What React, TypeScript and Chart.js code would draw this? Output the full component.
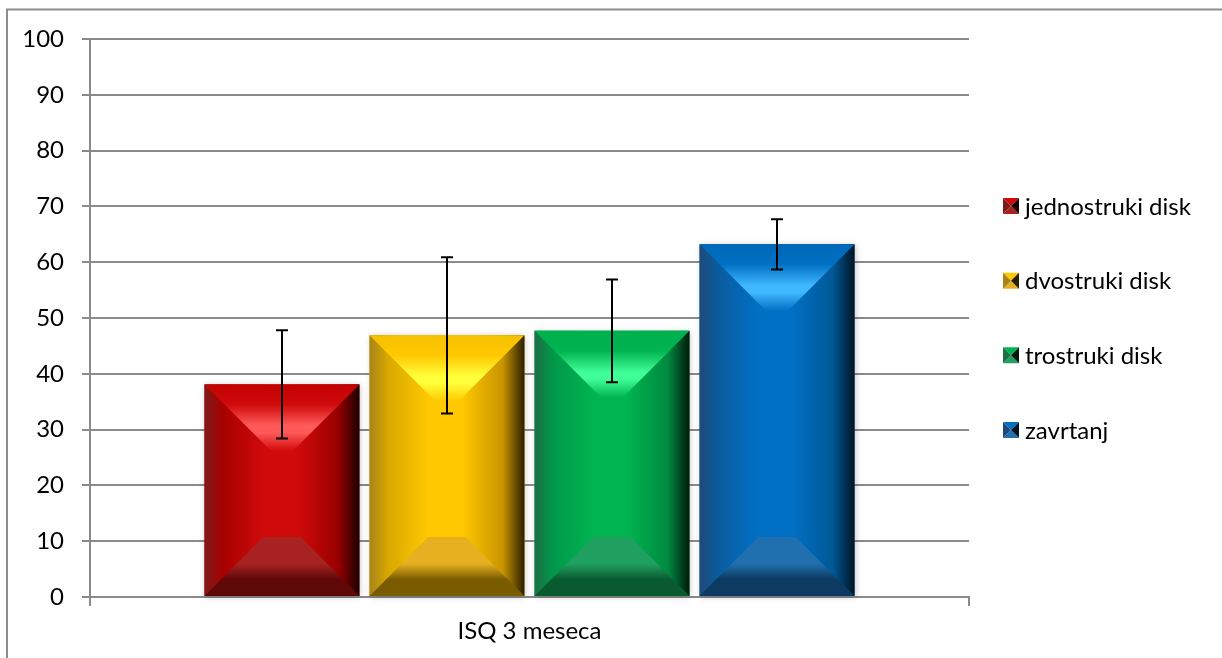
import React, { useEffect, useRef } from 'react';
import { Chart, registerables } from 'chart.js';

Chart.register(...registerables);

// ---- data ----
const categories = ['ISQ 3 meseca'];
const seriesNames = ['jednostruki disk', 'dvostruki disk', 'trostruki disk', 'zavrtanj'];
const means = [38.1, 46.9, 47.7, 63.2];
const errors = [9.7, 14.0, 9.2, 4.5];
const yMin = 0;
const yMax = 100;
const yStep = 10;

// ---- styles ----
type Pal = {
  base: string; edgeL: string; sideL: string; sideR: string; edgeR: string;
  topEdge: string; hi: string; botTop: string; botDark: string;
};
const palettes: Pal[] = [
  { base: '#d00a0a', edgeL: '#7d1a1a', sideL: '#a80000', sideR: '#9a0000', edgeR: '#1a0000', topEdge: '#c40000', hi: '#ff5a5a', botTop: '#a82222', botDark: '#5e0808' },
  { base: '#ffc800', edgeL: '#a8831a', sideL: '#d9a800', sideR: '#c89400', edgeR: '#2a1e00', topEdge: '#f5c000', hi: '#ffff3a', botTop: '#e6b020', botDark: '#7a5c00' },
  { base: '#00b450', edgeL: '#1e6e46', sideL: '#00984a', sideR: '#008a40', edgeR: '#001a0a', topEdge: '#00b04e', hi: '#40ff98', botTop: '#20a060', botDark: '#0a5a30' },
  { base: '#0070c4', edgeL: '#1f4a78', sideL: '#0a5c9e', sideR: '#005896', edgeR: '#001424', topEdge: '#0068b8', hi: '#40b8ff', botTop: '#2070b0', botDark: '#0c3a60' },
];

const FONT = 'Lato, "Noto Sans", sans-serif';
const FONT_SIZE = 24;
const GRID = '#8a8a8a';

function drawBevelBar(ctx: CanvasRenderingContext2D, l: number, t: number, r: number, b: number, c: Pal) {
  const w = r - l;
  const h = b - t;
  if (w <= 0 || h <= 0) return;
  const dTop = Math.min(w * 0.43, h * 0.45);
  const dBot = Math.min(w * 0.38, h * 0.4);

  ctx.save();
  ctx.shadowColor = 'rgba(0,0,0,0.22)';
  ctx.shadowBlur = 6;
  ctx.shadowOffsetX = 1;
  ctx.shadowOffsetY = 1;
  const g = ctx.createLinearGradient(l, 0, r, 0);
  g.addColorStop(0, c.edgeL);
  g.addColorStop(0.12, c.sideL);
  g.addColorStop(0.38, c.base);
  g.addColorStop(0.6, c.base);
  g.addColorStop(0.86, c.sideR);
  g.addColorStop(1, c.edgeR);
  ctx.fillStyle = g;
  ctx.fillRect(l, t, w, h);
  ctx.restore();

  // top facet
  ctx.save();
  ctx.beginPath();
  ctx.moveTo(l, t);
  ctx.lineTo(r, t);
  ctx.lineTo(r - dTop, t + dTop);
  ctx.lineTo(l + dTop, t + dTop);
  ctx.closePath();
  const gt = ctx.createLinearGradient(0, t, 0, t + dTop);
  gt.addColorStop(0, c.topEdge);
  gt.addColorStop(0.3, c.base);
  gt.addColorStop(0.62, c.hi);
  gt.addColorStop(0.72, c.hi);
  gt.addColorStop(1, c.base);
  ctx.fillStyle = gt;
  ctx.fill();
  ctx.restore();

  // bottom facet
  ctx.save();
  ctx.beginPath();
  ctx.moveTo(l, b);
  ctx.lineTo(r, b);
  ctx.lineTo(r - dBot, b - dBot);
  ctx.lineTo(l + dBot, b - dBot);
  ctx.closePath();
  const gb = ctx.createLinearGradient(0, b - dBot, 0, b);
  gb.addColorStop(0, c.botTop);
  gb.addColorStop(0.45, c.botTop);
  gb.addColorStop(0.72, c.botDark);
  gb.addColorStop(1, c.botDark);
  ctx.fillStyle = gb;
  ctx.fill();
  ctx.restore();
}

function drawSwatch(ctx: CanvasRenderingContext2D, x: number, y: number, s: number, c: Pal) {
  const cx = x + s / 2;
  const cy = y + s / 2;
  const tri = (pts: number[][], col: string) => {
    ctx.beginPath();
    ctx.moveTo(pts[0][0], pts[0][1]);
    for (let i = 1; i < pts.length; i++) ctx.lineTo(pts[i][0], pts[i][1]);
    ctx.closePath();
    ctx.fillStyle = col;
    ctx.fill();
  };
  tri([[x, y], [x + s, y], [cx, cy]], c.base);
  tri([[x, y + s], [x + s, y + s], [cx, cy]], c.botTop);
  tri([[x, y], [x, y + s], [cx, cy]], c.edgeL);
  tri([[x + s, y], [x + s, y + s], [cx, cy]], c.edgeR);
}

const framePlugin = {
  id: 'frame',
  beforeDraw(chart: any) {
    const ctx = chart.ctx as CanvasRenderingContext2D;
    ctx.save();
    ctx.fillStyle = '#ffffff';
    ctx.fillRect(0, 0, chart.width, chart.height);
    ctx.strokeStyle = '#8c8c8c';
    ctx.lineWidth = 2;
    ctx.strokeRect(7, 9.5, chart.width + 20, chart.height + 20);
    ctx.restore();
  },
};

const bevelPlugin = {
  id: 'bevelBars',
  afterDatasetsDraw(chart: any) {
    const ctx = chart.ctx as CanvasRenderingContext2D;
    const yScale = chart.scales.y;
    chart.data.datasets.forEach((ds: any, di: number) => {
      const meta = chart.getDatasetMeta(di);
      meta.data.forEach((el: any) => {
        const p = el.getProps(['x', 'y', 'base', 'width'], true);
        drawBevelBar(ctx, p.x - p.width / 2, p.y, p.x + p.width / 2, p.base, palettes[di]);
      });
    });
    // error bars
    ctx.save();
    ctx.strokeStyle = '#000000';
    ctx.lineWidth = 2;
    chart.data.datasets.forEach((ds: any, di: number) => {
      const meta = chart.getDatasetMeta(di);
      meta.data.forEach((el: any) => {
        const p = el.getProps(['x'], true);
        const v = means[di];
        const e = errors[di];
        const yt = yScale.getPixelForValue(v + e);
        const yb = yScale.getPixelForValue(v - e);
        const x = Math.round(p.x);
        ctx.beginPath();
        ctx.moveTo(x, yt);
        ctx.lineTo(x, yb);
        ctx.moveTo(x - 6, yt);
        ctx.lineTo(x + 6, yt);
        ctx.moveTo(x - 6, yb);
        ctx.lineTo(x + 6, yb);
        ctx.stroke();
      });
    });
    ctx.restore();
  },
  afterDraw(chart: any) {
    const ctx = chart.ctx as CanvasRenderingContext2D;
    const area = chart.chartArea;
    const cy = (area.top + area.bottom) / 2;
    const gap = 74.7;
    const n = chart.data.datasets.length;
    ctx.save();
    ctx.font = `${FONT_SIZE}px ${FONT}`;
    ctx.textBaseline = 'middle';
    ctx.textAlign = 'left';
    chart.data.datasets.forEach((ds: any, di: number) => {
      const y = cy + (di - (n - 1) / 2) * gap;
      drawSwatch(ctx, 1003, y - 8, 16, palettes[di]);
      ctx.fillStyle = '#000000';
      ctx.fillText(ds.label, 1025, y + 1);
    });
    ctx.restore();
  },
};

export default function App() {
  const ref = useRef<HTMLCanvasElement | null>(null);
  useEffect(() => {
    const canvas = ref.current;
    if (!canvas) return;
    const chart = new Chart(canvas, {
      type: 'bar',
      data: {
        labels: categories,
        datasets: seriesNames.map((name, i) => ({
          label: name,
          data: [means[i]],
          backgroundColor: palettes[i].base,
          borderWidth: 0,
          categoryPercentage: 0.751,
          barPercentage: 0.939,
        })),
      },
      options: {
        responsive: false,
        animation: false,
        devicePixelRatio: 1,
        layout: { padding: { left: 0, top: 39, right: 253, bottom: 0 } },
        plugins: {
          legend: { display: false },
          tooltip: { enabled: false },
          title: { display: false },
        },
        scales: {
          x: {
            grid: { display: true, drawOnChartArea: false, drawTicks: true, tickLength: 9, color: GRID, lineWidth: 2, offset: true },
            border: { display: true, color: GRID, width: 2 },
            ticks: { color: '#000', font: { family: FONT, size: FONT_SIZE }, padding: 11 },
            afterFit: (s: any) => { s.height = 61; },
          },
          y: {
            min: yMin,
            max: yMax,
            ticks: { stepSize: yStep, color: '#000', font: { family: FONT, size: FONT_SIZE }, padding: 18 },
            grid: { color: GRID, lineWidth: 2, tickLength: 8, drawTicks: true },
            border: { display: true, color: GRID, width: 2 },
            afterFit: (s: any) => { s.width = 90; },
          },
        },
      },
      plugins: [framePlugin, bevelPlugin],
    });
    return () => chart.destroy();
  }, []);
  return (
    <div style={{ position: 'absolute', left: 0, top: 0, width: 1222, height: 658 }}>
      <canvas ref={ref} width={1222} height={658} style={{ display: 'block' }} />
    </div>
  );
}
